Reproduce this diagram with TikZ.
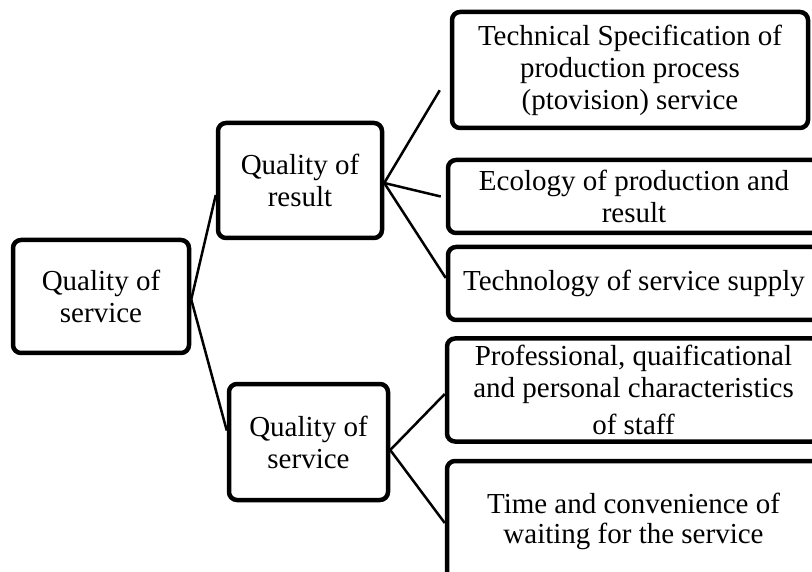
\documentclass[tikz,border=0pt]{standalone}
\usepackage{fontspec}
\setmainfont{Liberation Serif}
\begin{document}
\begin{tikzpicture}[x=1pt,y=-1pt,
  box/.style={draw=black, line width=4.5pt, rounded corners=8pt, fill=white,
    align=center, inner sep=0pt, font=\fontsize{29}{32}\selectfont},
  link/.style={draw=black, line width=2.5pt}]
\useasboundingbox (0,0) rectangle (812,572);
\clip (0,0) rectangle (812,572);
% level 0
\node[box, minimum width=176pt, minimum height=113pt] (L) at (101,296.5) {Quality of\\service};
% level 1
\node[box, minimum width=164pt, minimum height=115pt] (R) at (300,180.5) {Quality of\\result};
\node[box, minimum width=159pt, minimum height=116pt] (S) at (308.5,442) {Quality of\\service};
% level 2
\node[box, minimum width=356pt, minimum height=116pt] (T1) at (630,70) {Technical Specification of\\production process\\(ptovision) service};
\node[box, minimum width=372pt, minimum height=73pt] (T2) at (634,196.5) {Ecology of production and\\result};
\node[box, minimum width=372pt, minimum height=73pt] (T3) at (634,283.5) {Technology of service supply};
\node[box, minimum width=373pt, minimum height=103pt] (T4) at (633.5,390) {Professional, quaificational\\and personal characteristics\\[5pt]of staff};
\node[box, minimum width=373pt, minimum height=120pt, font=\fontsize{29}{30}\selectfont] (T5) at (633.5,521) {Time and convenience of\\waiting for the service};
% connectors
\draw[link] ([yshift=-3pt]L.east) -- ([yshift=-14.5pt]R.west);
\draw[link] ([yshift=-3pt]L.east) -- ([yshift=11.5pt]S.west);
\draw[link] ([yshift=-2.5pt]R.east) -- ([xshift=-10pt,yshift=40pt]T1.south west);
\draw[link] ([yshift=-2.5pt]R.east) -- ([xshift=-5pt]T2.west);
\draw[link] ([yshift=-2.5pt]R.east) -- ([yshift=5.5pt]T3.west);
\draw[link] ([yshift=-8pt]S.east) -- ([yshift=-4pt]T4.west);
\draw[link] ([yshift=-8pt]S.east) -- ([yshift=-2pt]T5.west);
\end{tikzpicture}
\end{document}
